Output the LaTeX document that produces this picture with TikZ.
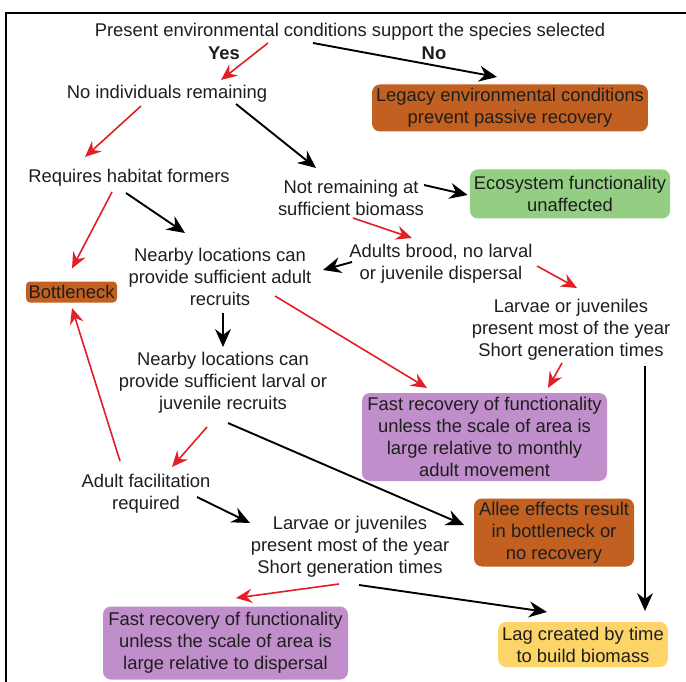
\documentclass[tikz,border=0pt]{standalone}
\usepackage{fontspec}
\setmainfont{Liberation Sans}
\usetikzlibrary{arrows.meta,calc}
\definecolor{orgbox}{RGB}{193,96,32}
\definecolor{grnbox}{RGB}{148,206,130}
\definecolor{prpbox}{RGB}{192,142,202}
\definecolor{ylwbox}{RGB}{252,212,104}
\definecolor{redarr}{RGB}{228,30,38}
\definecolor{txtcol}{RGB}{30,30,30}
\begin{document}
\begin{tikzpicture}[x=1pt,y=-1pt,
  every node/.style={font=\fontsize{18.4}{22}\selectfont, text=txtcol, align=center, inner sep=0pt},
  lbl/.style={},
  boxnode/.style={rounded corners=8pt, fill=#1, inner xsep=4pt},
  blkarrow/.style={draw=black, line width=1.9pt, -{Stealth[length=18pt,width=16pt,inset=6pt]}},
  redarrow/.style={draw=redarr, line width=1.6pt, -{Stealth[length=16pt,width=14pt,inset=5.5pt]}},
  frameline/.style={draw=black, line width=2.5pt, line join=miter}]
\useasboundingbox (0,0) rectangle (686,682);
\fill[white] (0,0) rectangle (686,682);
\draw[frameline] (6,682) -- (6,13) -- (686,13);

% text nodes
\node[lbl] (top) at (350,32) {Present environmental conditions support the species selected};
\node[lbl, font=\fontsize{18.4}{22}\selectfont\bfseries] (yes) at (224,53) {Yes};
\node[lbl, font=\fontsize{18.4}{22}\selectfont\bfseries] (no) at (434,53) {No};
\node[lbl] (noind) at (167,94) {No individuals remaining};
\node[lbl] (reqhab) at (129,178) {Requires habitat formers};
\node[lbl] (notrem) at (351,198) {Not remaining at\\sufficient biomass};
\node[lbl] (nearadult) at (220,277) {Nearby locations can\\provide sufficient adult\\recruits};
\node[lbl] (brood) at (441,264) {Adults brood, no larval\\or juvenile dispersal};
\node[lbl] (larv1) at (571,330) {Larvae or juveniles\\present most of the year\\Short generation times};
\node[lbl] (nearlarv) at (223,383) {Nearby locations can\\provide sufficient larval or\\juvenile recruits};
\node[lbl] (adultfac) at (146,494) {Adult facilitation\\required};
\node[lbl] (larv2) at (350,547) {Larvae or juveniles\\present most of the year\\Short generation times};

% boxes
\node[boxnode=orgbox, minimum width=247pt, minimum height=47pt] (legacy) at (510,108) {Legacy environmental conditions\\prevent passive recovery};
\node[boxnode=grnbox, minimum width=154pt, minimum height=49pt] (eco) at (570,194) {Ecosystem functionality\\unaffected};
\node[boxnode=orgbox, minimum width=91pt, minimum height=21pt, rounded corners=4pt, inner xsep=2pt] (bottle) at (71.5,292) {Bottleneck};
\node[boxnode=prpbox, minimum width=245pt, minimum height=88pt] (fast1) at (484.5,437) {Fast recovery of functionality\\unless the scale of area is\\large relative to monthly\\adult movement};
\node[boxnode=orgbox, minimum width=160pt, minimum height=68pt] (allee) at (554,532.5) {Allee effects result\\in bottleneck or\\no recovery};
\node[boxnode=prpbox, minimum width=245pt, minimum height=73pt] (fast2) at (225.5,643) {Fast recovery of functionality\\unless the scale of area is\\large relative to dispersal};
\node[boxnode=ylwbox, minimum width=168pt, minimum height=45pt] (lag) at (583,644.5) {Lag created by time\\to build biomass};

% connectors
\draw[redarrow] ($(top)+(-82,11)$) -- ($(noind)+(54,-14)$);
\draw[blkarrow] ($(top)+(-37,11)$) -- ($(legacy)+(-13,-31)$);
\draw[redarrow] ($(noind)+(-26,12)$) -- ($(reqhab)+(-44,-21)$);
\draw[blkarrow] ($(noind)+(69,10)$) -- ($(notrem)+(-35,-30)$);
\draw[blkarrow] ($(notrem)+(73,-13)$) -- ($(eco.west)+(-2,1)$);
\draw[redarrow] ($(notrem)+(2,20)$) -- ($(brood)+(-29,-26)$);
\draw[redarrow] ($(reqhab)+(-17,14)$) -- ($(bottle)+(0.5,-23.5)$);
\draw[blkarrow] ($(reqhab)+(-3,15)$) -- ($(nearadult)+(-35,-44)$);
\draw[blkarrow] ($(brood)+(-89,-2)$) -- ($(nearadult)+(103,-7)$);
\draw[redarrow] ($(brood)+(96,2)$) -- ($(larv1)+(6,-42)$);
\draw[blkarrow] ($(nearadult)+(3,36)$) -- ($(nearlarv)+(0,-36)$);
\draw[redarrow] ($(nearadult)+(55,19)$) -- ($(fast1)+(-57.5,-49)$);
\draw[redarrow] ($(larv1)+(-9,33)$) -- ($(fast1)+(63.5,-49)$);
\draw[blkarrow] ($(larv1)+(74,36)$) -- ($(lag)+(62,-33.5)$);
\draw[redarrow] ($(adultfac)+(-26,-33)$) -- ($(bottle)+(0.5,16)$);
\draw[redarrow] ($(nearlarv)+(-16,44)$) -- ($(adultfac)+(26,-27)$);
\draw[blkarrow] ($(nearlarv)+(5,40)$) -- ($(allee)+(-90,-7.5)$);
\draw[blkarrow] ($(adultfac)+(51,3)$) -- ($(larv2)+(-100,-24)$);
\draw[redarrow] ($(larv2)+(-11,37)$) -- ($(fast2)+(10.5,-45)$);
\draw[blkarrow] ($(larv2)+(9,38)$) -- ($(lag)+(-36,-32.5)$);
\end{tikzpicture}
\end{document}
